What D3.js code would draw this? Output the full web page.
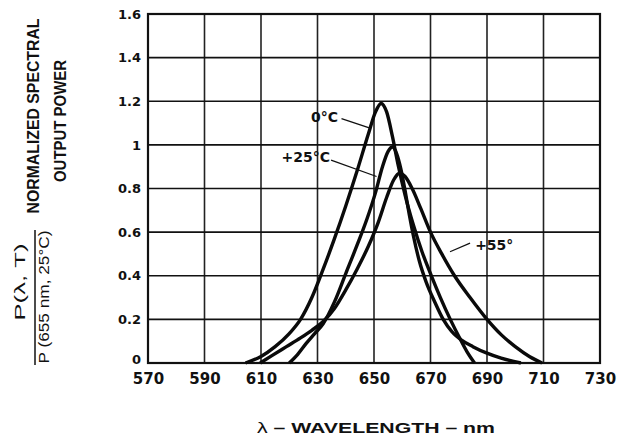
<!DOCTYPE html>
<html>
<head>
<meta charset="utf-8">
<script src="https://cdn.jsdelivr.net/npm/d3@7"></script>
<style>
  body { margin: 0; background: #fff; }
  svg { display: block; }
  .tick text { font-family: "DejaVu Sans", sans-serif; font-weight: bold; fill: #111; }
  .title { font-family: "Liberation Sans", Arial, sans-serif; font-weight: bold; fill: #111; }
  .frac { font-family: "Liberation Sans", Arial, sans-serif; fill: #111; }
  .note { font-family: "DejaVu Sans", sans-serif; font-weight: bold; font-size: 14px; fill: #111; }
</style>
</head>
<body>
<svg id="chart" width="620" height="443"></svg>
<script>
// axis ticks
var xTicks = [570, 590, 610, 630, 650, 670, 690, 710, 730];
var yTicks = [0, 0.2, 0.4, 0.6, 0.8, 1, 1.2, 1.4, 1.6];
var yTickLabels = ['0', '0.2', '0.4', '0.6', '0.8', '1', '1.2', '1.4', '1.6'];

// curves: [wavelength nm, relative power]
var curve0C = [[604.5, 0], [610, 0.03], [615, 0.075], [620, 0.135], [624, 0.2], [628, 0.3],
    [632, 0.43], [636, 0.57], [640, 0.72], [644, 0.88], [648, 1.05], [650.5, 1.15], [652.5, 1.19],
    [654.5, 1.15], [656.5, 1.04], [658.5, 0.91], [661, 0.77], [664, 0.63], [667, 0.51], [670, 0.41],
    [673.5, 0.3], [677, 0.2], [680.5, 0.11], [683, 0.05], [685.6, 0]];
var curve25C = [[620, 0], [623, 0.04], [626, 0.09], [629, 0.135], [632, 0.18], [636, 0.28],
    [640, 0.41], [644, 0.54], [647.5, 0.66], [650.5, 0.78], [653, 0.9], [655, 0.97], [656.5, 0.99],
    [658, 0.96], [659.5, 0.89], [661, 0.79], [662.5, 0.68], [664, 0.58], [666, 0.47], [668.5, 0.37],
    [671.5, 0.28], [674.5, 0.2], [677.5, 0.145], [681, 0.105], [685, 0.075], [690, 0.045],
    [695, 0.022], [702, 0]];
var curve55C = [[609.7, 0], [614, 0.035], [619, 0.075], [624, 0.115], [628, 0.15], [632, 0.19],
    [636, 0.25], [640, 0.335], [644, 0.43], [648, 0.535], [651.5, 0.645], [654.5, 0.76], [657, 0.84],
    [659, 0.87], [661, 0.855], [663.5, 0.8], [666.5, 0.71], [670, 0.6], [674, 0.5], [678.5, 0.4],
    [684, 0.3], [690, 0.2], [695, 0.13], [700, 0.075], [705, 0.03], [709.5, 0]];

var series = [curve0C, curve25C, curve55C];

// curve labels with leader lines, in data units
var notes = [
    { text: '0°C', anchor: 'end', at: [637.3, 1.13], from: [638.5, 1.12], to: [648.6, 1.077] },
    { text: '+25°C', anchor: 'end', at: [634.4, 0.946], from: [634.8, 0.93], to: [650.9, 0.855] },
    { text: '+55°', anchor: 'start', at: [685.8, 0.54], from: [684, 0.55], to: [676.9, 0.51] }
];

var svg = d3.select('#chart');

var x = d3.scaleLinear().domain([570, 730]).range([148, 600]);
var y = d3.scaleLinear().domain([0, 1.6]).range([363, 14]);

// grid
svg.append('g')
    .selectAll('line')
    .data(xTicks)
    .enter()
    .append('line')
        .attr('x1', function (d) { return x(d); })
        .attr('x2', function (d) { return x(d); })
        .attr('y1', y(0))
        .attr('y2', y(1.6))
        .attr('stroke', '#222')
        .attr('stroke-width', 1.6);

svg.append('g')
    .selectAll('line')
    .data(yTicks)
    .enter()
    .append('line')
        .attr('x1', x(570))
        .attr('x2', x(730))
        .attr('y1', function (d) { return y(d); })
        .attr('y2', function (d) { return y(d); })
        .attr('stroke', '#111')
        .attr('stroke-width', 1.6);

// frame
svg.append('rect')
    .attr('x', x(570))
    .attr('y', y(1.6))
    .attr('width', x(730) - x(570))
    .attr('height', y(0) - y(1.6))
    .attr('fill', 'none')
    .attr('stroke', '#111')
    .attr('stroke-width', 2.2);

// axes (labels only, the grid draws the lines)
var xAxis = svg.append('g')
    .attr('transform', `translate(0,${y(0)})`)
    .call(d3.axisBottom(x).tickValues(xTicks).tickFormat(d3.format('d')).tickSize(0).tickPadding(10));
xAxis.select('.domain').remove();
xAxis.selectAll('text').style('font-size', '15px');

var yAxis = svg.append('g')
    .attr('transform', `translate(${x(570)},0)`)
    .call(d3.axisLeft(y).tickValues(yTicks)
        .tickFormat(function (d, i) { return yTickLabels[i]; })
        .tickSize(0).tickPadding(7));
yAxis.select('.domain').remove();
yAxis.selectAll('text').style('font-size', '13px');
// lift the zero so it clears the first x label
yAxis.selectAll('text').filter(function (d) { return d === 0; }).attr('dy', '0.05em');

// curves
var line = d3.line()
    .x(function (d) { return x(d[0]); })
    .y(function (d) { return y(d[1]); })
    .curve(d3.curveMonotoneX);

svg.append('g')
    .selectAll('path')
    .data(series)
    .enter()
    .append('path')
        .attr('d', line)
        .attr('fill', 'none')
        .attr('stroke', '#0a0a0a')
        .attr('stroke-width', 3.4)
        .attr('stroke-linejoin', 'round');

// labels
var note = svg.append('g')
    .selectAll('g')
    .data(notes)
    .enter()
    .append('g');

note.append('line')
    .attr('x1', function (d) { return x(d.from[0]); })
    .attr('y1', function (d) { return y(d.from[1]); })
    .attr('x2', function (d) { return x(d.to[0]); })
    .attr('y2', function (d) { return y(d.to[1]); })
    .attr('stroke', '#111')
    .attr('stroke-width', 1.3);

note.append('text')
    .attr('class', 'note')
    .attr('x', function (d) { return x(d.at[0]); })
    .attr('y', function (d) { return y(d.at[1]); })
    .attr('dy', '0.36em')
    .attr('text-anchor', function (d) { return d.anchor; })
    .text(function (d) { return d.text; });

// x title
var xt = svg.append('text')
    .attr('class', 'title')
    .attr('x', 376)
    .attr('y', 433)
    .attr('text-anchor', 'middle')
    .attr('textLength', 238)
    .attr('lengthAdjust', 'spacingAndGlyphs')
    .style('font-size', '15px');
xt.append('tspan').style('font-weight', 'normal').text('λ');
xt.append('tspan').text(' – WAVELENGTH – nm');

// y title, rotated
function vText(cls, cx, cy, len, size, txt) {
    svg.append('text')
        .attr('class', cls)
        .attr('transform', `translate(${cx},${cy}) rotate(-90)`)
        .attr('text-anchor', 'middle')
        .attr('dy', '0.36em')
        .attr('textLength', len)
        .attr('lengthAdjust', 'spacingAndGlyphs')
        .style('font-size', size + 'px')
        .text(txt);
}

vText('title', 33, 116, 195, 17, 'NORMALIZED SPECTRAL');
vText('title', 60, 121, 122, 17, 'OUTPUT POWER');
vText('frac', 20, 282, 77, 15, 'P(λ, T)');
vText('frac', 44, 297, 133, 14, 'P (655 nm, 25°C)');

svg.append('line')
    .attr('x1', 35).attr('x2', 35)
    .attr('y1', 230).attr('y2', 365)
    .attr('stroke', '#111')
    .attr('stroke-width', 1.5);
</script>
</body>
</html>
